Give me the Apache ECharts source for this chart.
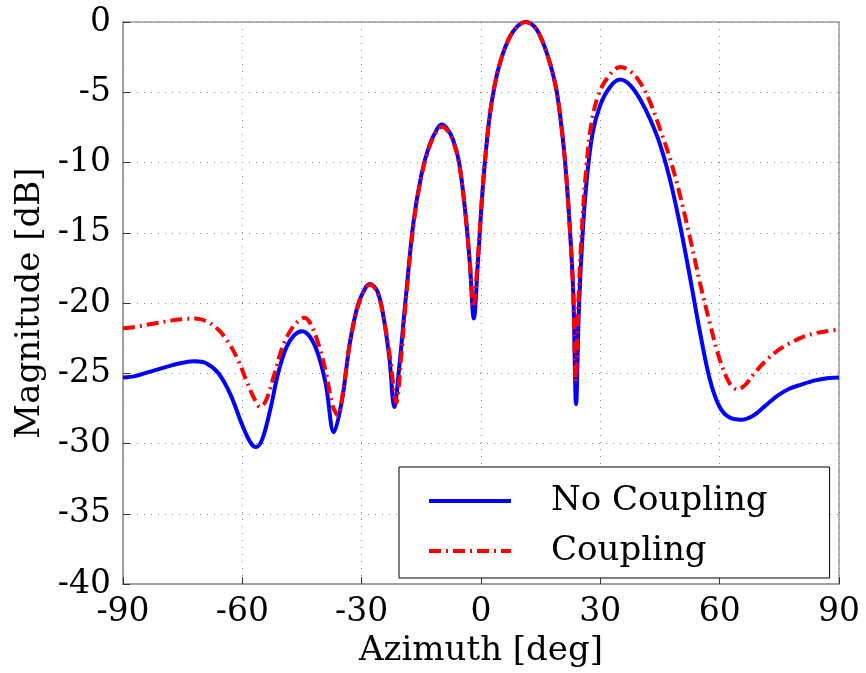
<!DOCTYPE html>
<html>
<head>
<meta charset="utf-8">
<script src="https://cdn.jsdelivr.net/npm/echarts@6/dist/echarts.min.js"></script>
<style>
html,body{margin:0;padding:0;background:#fff;}
#chart{width:866px;height:673px;}
</style>
</head>
<body>
<div id="chart"></div>
<script>
// No Coupling (blue)
var azNo = [-90,-87,-84,-81,-78,-75,-72,-69,-66,-63,-60,-58,-56.6,-55,-53,-51,-49,-47,-45,-43,-41,-39,-37,-35,-33,-31,-29,-27.9,-26,-24.5,-23,-21.8,-20.5,-19,-17,-15,-13,-11,-9.9,-8.5,-7,-5.5,-4,-2.8,-1.8,-0.8,0.5,2,3.5,5,7,9,11.2,13.5,15.5,17.5,19,20.3,21.3,22.3,23.2,23.9,24.6,25.5,26.5,28,30,32.5,35,37.5,40,42.5,45,47.5,50,52.5,55,57.5,60,62.5,65.5,68.5,71.5,74.5,77.5,80.5,84,87,90];
var magNo = [-25.3,-25.2,-24.95,-24.7,-24.45,-24.25,-24.15,-24.3,-25.0,-26.5,-28.7,-29.9,-30.25,-29.7,-27.6,-25.0,-23.2,-22.3,-22.0,-22.4,-23.6,-25.8,-29.2,-27.0,-22.9,-20.2,-18.9,-18.65,-19.2,-21.0,-24.0,-27.4,-24.4,-19.9,-14.3,-10.9,-8.8,-7.6,-7.3,-7.6,-8.4,-10.0,-13.4,-17.2,-21.1,-17.2,-11.6,-7.1,-4.4,-2.7,-1.2,-0.35,0,-0.35,-1.4,-3.1,-4.9,-7.6,-10.5,-14.5,-19.3,-27.2,-20.5,-15.3,-11.5,-8.0,-5.9,-4.6,-4.1,-4.5,-5.5,-6.9,-8.7,-11.2,-14.4,-18.1,-22.0,-25.4,-27.4,-28.15,-28.3,-28.0,-27.3,-26.6,-26.1,-25.8,-25.5,-25.35,-25.3];

// Coupling (red)
var azCp = [-90,-87,-84,-81,-78,-75,-72,-69,-66,-63.5,-61,-59,-57,-55.5,-54,-52,-50,-48,-46,-44.5,-43,-41,-39,-37.3,-36,-34.5,-33,-31,-29,-27.9,-26,-24.5,-22.8,-21.3,-20,-19,-17,-15,-13,-11,-9.8,-8.5,-7,-5.5,-4,-2.8,-1.9,-0.9,0.5,2,3.5,5,7,9,11.2,13.5,15.5,17.5,19,20.3,21.3,22.3,23.2,23.8,24.5,25.3,26.3,27.7,29.5,32,35,37.5,40,42.5,45,47.5,50,52.5,55,57.5,60,62.5,64.5,66.5,69,72,75,78,81,84,87,90];
var magCp = [-21.8,-21.7,-21.55,-21.4,-21.25,-21.15,-21.1,-21.3,-21.9,-22.8,-24.1,-25.5,-26.8,-27.4,-26.9,-25.1,-23.2,-22.0,-21.3,-21.05,-21.4,-22.8,-24.9,-27.3,-28.0,-25.9,-22.9,-20.3,-18.9,-18.7,-19.3,-21.0,-24.0,-27.1,-23.6,-20.2,-14.5,-11.0,-8.9,-7.7,-7.45,-7.7,-8.5,-10.1,-13.4,-17.1,-20.3,-17.2,-11.6,-7.1,-4.4,-2.7,-1.2,-0.35,0,-0.35,-1.4,-3.1,-4.9,-7.6,-10.5,-14.5,-19.3,-25.6,-19.8,-15.0,-10.9,-7.3,-5.2,-3.9,-3.2,-3.5,-4.3,-5.7,-7.6,-9.7,-12.3,-15.3,-18.5,-21.4,-24.0,-25.7,-26.15,-25.8,-24.9,-24.0,-23.3,-22.8,-22.4,-22.15,-22.0,-21.9];

var pairs = function(xs, ys){
	var out = [];
	for (var i = 0; i < xs.length; i++) out.push([xs[i], ys[i]]);
	return out;
};

var FONT = 'DejaVu Serif';
var myChart = echarts.init(document.getElementById('chart'));
var option = {
	animation: false,
	backgroundColor: '#fff',
	grid: {
		left: 123, right: 27, top: 22, bottom: 87,
		show: true,
		borderColor: '#9a9a9a',
		borderWidth: 1.5
	},
	legend: {
		orient: 'vertical',
		left: 399,
		top: 467,
		data: ['No Coupling', 'Coupling'],
		itemWidth: 82,
		itemHeight: 14,
		itemGap: 16,
		padding: [17, 62, 10, 28],
		backgroundColor: '#fff',
		borderColor: '#000',
		borderWidth: 1,
		itemStyle: {opacity: 0},
		lineStyle: {width: 4},
		textStyle: {fontFamily: FONT, fontSize: 34, color: '#000', padding: [0, 0, 0, 35]}
	},
	xAxis: {
		type: 'value',
		min: -90, max: 90, interval: 30,
		name: 'Azimuth [deg]',
		nameLocation: 'middle',
		nameGap: 48,
		nameTextStyle: {fontFamily: FONT, fontSize: 34, color: '#000'},
		axisLine: {onZero: false, lineStyle: {color: '#9a9a9a', width: 1.5}},
		axisTick: {inside: true, length: 7, lineStyle: {color: '#333'}},
		axisLabel: {fontFamily: FONT, fontSize: 33, color: '#000', margin: 12},
		splitLine: {show: true, lineStyle: {color: '#888', type: [1, 6], width: 1}}
	},
	yAxis: {
		type: 'value',
		min: -40, max: 0, interval: 5,
		name: 'Magnitude [dB]',
		nameLocation: 'middle',
		nameGap: 76,
		nameTextStyle: {fontFamily: FONT, fontSize: 34, color: '#000'},
		axisLine: {show: true, onZero: false, lineStyle: {color: '#9a9a9a', width: 1.5}},
		axisTick: {show: true, inside: true, length: 7, lineStyle: {color: '#333'}},
		axisLabel: {fontFamily: FONT, fontSize: 33, color: '#000', margin: 12},
		splitLine: {show: true, lineStyle: {color: '#888', type: [1, 6], width: 1}}
	},
	series: [
		{
			name: 'No Coupling',
			type: 'line',
			data: pairs(azNo, magNo),
			smooth: 0.35,
			symbol: 'none',
			lineStyle: {color: '#0000ff', width: 4},
			itemStyle: {color: '#0000ff'}
		},
		{
			name: 'Coupling',
			type: 'line',
			data: pairs(azCp, magCp),
			smooth: 0.35,
			symbol: 'none',
			lineStyle: {color: '#ff0000', width: 4, type: [12, 5, 2, 5]},
			itemStyle: {color: '#ff0000'}
		}
	]
};
myChart.setOption(option);
</script>
</body>
</html>
